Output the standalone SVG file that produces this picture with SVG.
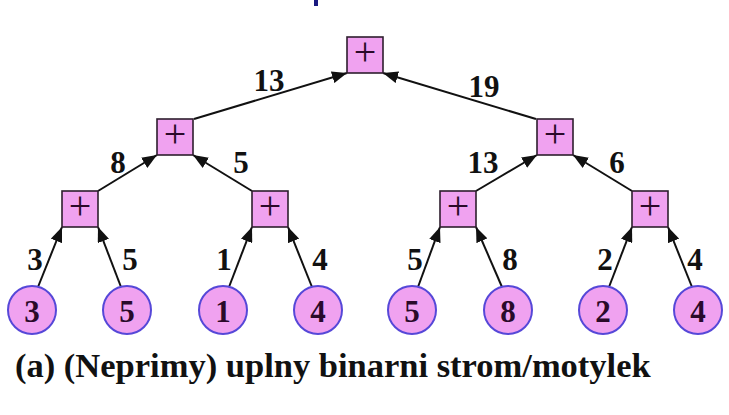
<svg xmlns="http://www.w3.org/2000/svg" width="729" height="415" viewBox="0 0 729 415">
<style>
.box{fill:#f0a2f0;stroke:#2e1e2e;stroke-width:1.6}
.leaf{fill:#f0a2f0;stroke:#5648d8;stroke-width:2}
text{font-family:'Liberation Serif','Times New Roman',Times,'DejaVu Serif',serif}
.op{font-size:40px;fill:#2a0a2a;text-anchor:middle}
.num{font-weight:bold;font-size:31px;fill:#2a0a2a;text-anchor:middle}
.lbl{font-weight:bold;font-size:31px;fill:#111;text-anchor:middle}
.cap{font-weight:bold;font-size:34.5px;fill:#111}
.edge{stroke:#111;stroke-width:2;fill:none;marker-end:url(#ah)}
</style>
<defs>
<marker id="ah" markerUnits="userSpaceOnUse" markerWidth="16" markerHeight="12" refX="15" refY="6" orient="auto">
<path d="M0,0 L15,6 L0,12 z" fill="#111"/>
</marker>
</defs>
<rect x="0" y="0" width="729" height="415" fill="#fff"/>
<rect x="314" y="0" width="4" height="6" fill="#1a1a80"/>
<g id="edges">
<line class="edge" x1="194" y1="119" x2="347" y2="73"/>
<line class="edge" x1="536" y1="119" x2="383" y2="73"/>
<line class="edge" x1="98" y1="191" x2="157" y2="155"/>
<line class="edge" x1="252" y1="191" x2="193" y2="155"/>
<line class="edge" x1="476" y1="191" x2="537" y2="155"/>
<line class="edge" x1="632" y1="191" x2="573" y2="155"/>
<line class="edge" x1="38" y1="287" x2="62" y2="227"/>
<line class="edge" x1="121" y1="287" x2="98" y2="227"/>
<line class="edge" x1="229" y1="287" x2="252" y2="227"/>
<line class="edge" x1="312" y1="287" x2="288" y2="227"/>
<line class="edge" x1="418" y1="287" x2="440" y2="227"/>
<line class="edge" x1="502" y1="287" x2="476" y2="227"/>
<line class="edge" x1="609" y1="287" x2="632" y2="227"/>
<line class="edge" x1="692" y1="287" x2="668" y2="227"/>
</g>
<g id="edge-labels">
<text class="lbl" x="269" y="91">13</text>
<text class="lbl" x="484" y="97">19</text>
<text class="lbl" x="118" y="173">8</text>
<text class="lbl" x="241" y="173">5</text>
<text class="lbl" x="483" y="173">13</text>
<text class="lbl" x="617" y="173">6</text>
<text class="lbl" x="35" y="270">3</text>
<text class="lbl" x="130" y="270">5</text>
<text class="lbl" x="224" y="270">1</text>
<text class="lbl" x="320" y="270">4</text>
<text class="lbl" x="415" y="270">5</text>
<text class="lbl" x="510" y="270">8</text>
<text class="lbl" x="605" y="270">2</text>
<text class="lbl" x="695" y="270">4</text>
</g>
<g id="root"><rect class="box" x="347" y="37" width="36" height="36"/><text class="op" x="365" y="65">+</text></g>
<g id="n1l"><rect class="box" x="157" y="119" width="36" height="36"/><text class="op" x="175" y="147">+</text></g>
<g id="n1r"><rect class="box" x="537" y="119" width="36" height="36"/><text class="op" x="555" y="147">+</text></g>
<g id="n2a"><rect class="box" x="62" y="191" width="36" height="36"/><text class="op" x="80" y="219">+</text></g>
<g id="n2b"><rect class="box" x="252" y="191" width="36" height="36"/><text class="op" x="270" y="219">+</text></g>
<g id="n2c"><rect class="box" x="440" y="191" width="36" height="36"/><text class="op" x="458" y="219">+</text></g>
<g id="n2d"><rect class="box" x="632" y="191" width="36" height="36"/><text class="op" x="650" y="219">+</text></g>
<g id="leaf1"><circle class="leaf" cx="32" cy="310" r="24"/><text class="num" x="32" y="322">3</text></g>
<g id="leaf2"><circle class="leaf" cx="127" cy="310" r="24"/><text class="num" x="127" y="322">5</text></g>
<g id="leaf3"><circle class="leaf" cx="223" cy="310" r="24"/><text class="num" x="223" y="322">1</text></g>
<g id="leaf4"><circle class="leaf" cx="318" cy="310" r="24"/><text class="num" x="318" y="322">4</text></g>
<g id="leaf5"><circle class="leaf" cx="412" cy="310" r="24"/><text class="num" x="412" y="322">5</text></g>
<g id="leaf6"><circle class="leaf" cx="508" cy="310" r="24"/><text class="num" x="508" y="322">8</text></g>
<g id="leaf7"><circle class="leaf" cx="603" cy="310" r="24"/><text class="num" x="603" y="322">2</text></g>
<g id="leaf8"><circle class="leaf" cx="698" cy="310" r="24"/><text class="num" x="698" y="322">4</text></g>
<text class="cap" x="15" y="377">(a) (Neprimy) uplny binarni strom/motylek</text>
</svg>
